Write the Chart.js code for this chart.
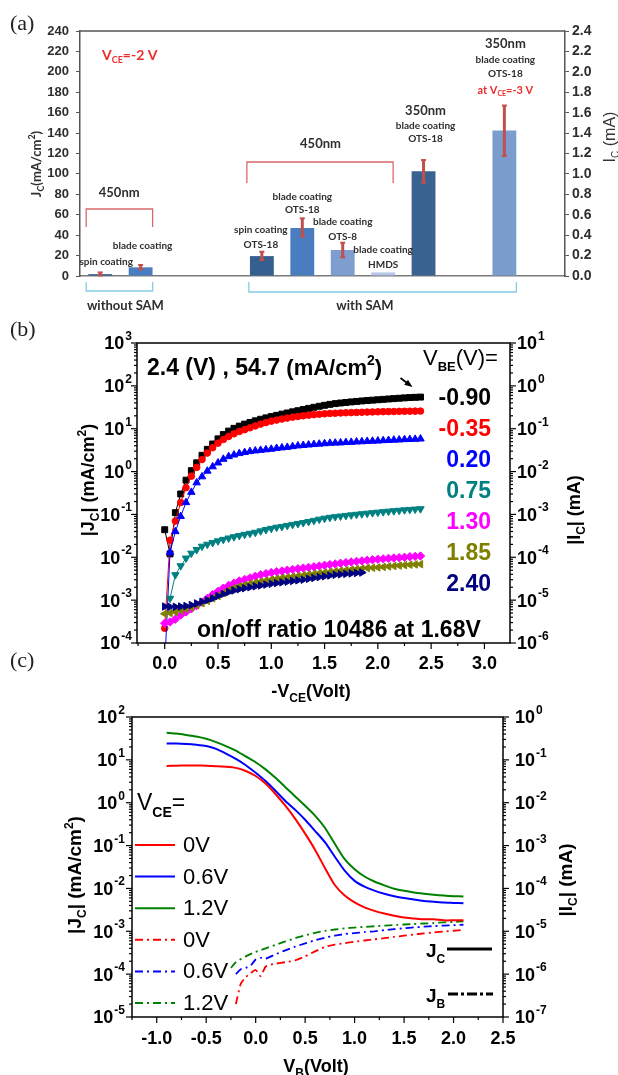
<!DOCTYPE html>
<html>
<head>
<meta charset="utf-8">
<script src="https://cdn.jsdelivr.net/npm/chart.js@4.4.0/dist/chart.umd.min.js"></script>
<style>
  body { margin: 0; background: #fff; }
  #wrap { position: relative; width: 618px; height: 1075px; overflow: hidden; }
  canvas { position: absolute; left: 0; }
</style>
</head>
<body>
<div id="wrap">
  <canvas id="chartA" width="618" height="318" style="top:0"></canvas>
  <canvas id="chartB" width="618" height="384" style="top:318px"></canvas>
  <canvas id="chartC" width="618" height="373" style="top:702px"></canvas>
</div>
<script>
// ---------- panel (a): Jc at Vce = -2 V ----------
const catsA = ['spin coating', 'blade coating', 'gap1', 'gap2', 'spin coating OTS-18', 'blade coating OTS-18',
  'blade coating OTS-8', 'blade coating HMDS', '350nm blade coating OTS-18', 'gap3', '350nm blade coating OTS-18 at -3 V', 'gap4'];
const jcA    = [1.8, 8.5, null, null, 19.5, 47, 25.5, 3.5, 102.5, null, 142.5, null];
const errLoA = [0.5, 6.6, null, null, 15.7, 38.5, 18.3, null, 91.4, null, 117.6, null];
const errHiA = [3.5, 10.8, null, null, 23.8, 56.5, 32.6, null, 113.6, null, 167, null];
const jcTicksA = [0, 20, 40, 60, 80, 100, 120, 140, 160, 180, 200, 220, 240];
const icTicksA = ['0.0', '0.2', '0.4', '0.6', '0.8', '1.0', '1.2', '1.4', '1.6', '1.8', '2.0', '2.2', '2.4'];

// ---------- panel (b): |Jc| vs -Vce for several Vbe ----------
const vceB = [0, 0.05, 0.1, 0.15, 0.2, 0.25, 0.3, 0.35, 0.4, 0.45, 0.5, 0.55, 0.6, 0.65, 0.7, 0.75, 0.8, 0.85, 0.9, 0.95,
  1.0, 1.05, 1.1, 1.15, 1.2, 1.25, 1.3, 1.35, 1.4, 1.45, 1.5, 1.55, 1.6, 1.65, 1.7, 1.75, 1.8, 1.85, 1.9, 1.95,
  2.0, 2.05, 2.1, 2.15, 2.2, 2.25, 2.3, 2.35, 2.4];
const vbeLabelsB = ['-0.90', '-0.35', '0.20', '0.75', '1.30', '1.85', '2.40'];
const jcBm090 = [0.044, 0.012, 0.11, 0.30, 0.63, 1.05, 1.6, 2.4, 3.3, 4.4, 5.8, 7.3, 8.8, 10.2, 11.5, 12.8, 14.0, 15.3, 16.6, 17.9,
  19.2, 20.5, 21.9, 23.3, 24.8, 26.3, 28.0, 29.8, 31.6, 33.4, 35.2, 37.0, 38.5, 39.8, 41.0, 42.2, 43.3, 44.4, 45.4, 46.4,
  47.4, 48.4, 49.4, 50.4, 51.4, 52.4, 53.3, 54.0, 54.7];
const jcBm035 = [2.2e-4, 0.025, 0.07, 0.19, 0.42, 0.78, 1.25, 1.9, 2.7, 3.6, 4.6, 5.6, 6.6, 7.6, 8.6, 9.5, 10.5, 11.6, 12.8, 13.9,
  15.0, 15.9, 16.8, 17.7, 18.6, 19.3, 20.0, 20.7, 21.3, 21.8, 22.3, 22.7, 23.0, 23.3, 23.6, 23.8, 24.0, 24.2, 24.4, 24.6,
  24.8, 25.0, 25.1, 25.2, 25.4, 25.5, 25.6, 25.7, 25.8];
const jcB020 = [3e-5, 0.013, 0.040, 0.09, 0.19, 0.33, 0.55, 0.76, 1.03, 1.3, 1.6, 1.95, 2.25, 2.45, 2.65, 2.8, 2.95, 3.05, 3.15, 3.25,
  3.35, 3.5, 3.6, 3.7, 3.85, 4.0, 4.1, 4.2, 4.3, 4.4, 4.5, 4.6, 4.65, 4.7, 4.8, 4.85, 4.95, 5.0, 5.1, 5.15,
  5.2, 5.3, 5.35, 5.45, 5.5, 5.6, 5.65, 5.7, 5.8];
const jcB075 = [null, 1.1e-3, 3.9e-3, 6.3e-3, 9.5e-3, 0.0124, 0.015, 0.018, 0.020, 0.022, 0.024, 0.026, 0.028, 0.030, 0.032, 0.034, 0.036, 0.038, 0.041, 0.044,
  0.047, 0.050, 0.052, 0.055, 0.058, 0.061, 0.064, 0.068, 0.072, 0.077, 0.081, 0.085, 0.088, 0.091, 0.094, 0.097, 0.100, 0.103, 0.106, 0.109,
  0.112, 0.115, 0.118, 0.121, 0.124, 0.127, 0.130, 0.132, 0.135];
const jcB130 = [2.9e-4, 3.1e-4, 3.6e-4, 4.5e-4, 5.3e-4, 6.3e-4, 7.5e-4, 9.0e-4, 1.1e-3, 1.35e-3, 1.6e-3, 1.9e-3, 2.2e-3, 2.5e-3, 2.8e-3, 3.05e-3, 3.3e-3, 3.6e-3, 3.9e-3, 4.15e-3,
  4.4e-3, 4.6e-3, 4.8e-3, 5.0e-3, 5.2e-3, 5.4e-3, 5.6e-3, 5.8e-3, 6.0e-3, 6.25e-3, 6.5e-3, 6.75e-3, 7.0e-3, 7.25e-3, 7.5e-3, 7.75e-3, 8.0e-3, 8.25e-3, 8.5e-3, 8.75e-3,
  9.0e-3, 9.2e-3, 9.4e-3, 9.6e-3, 9.8e-3, 1.0e-2, 1.03e-2, 1.05e-2, 1.07e-2];
const jcB185 = [4.8e-4, 5.0e-4, 5.3e-4, 5.7e-4, 6.2e-4, 6.8e-4, 7.6e-4, 8.5e-4, 9.6e-4, 1.1e-3, 1.25e-3, 1.45e-3, 1.7e-3, 1.9e-3, 2.1e-3, 2.25e-3, 2.4e-3, 2.55e-3, 2.7e-3, 2.85e-3,
  3.0e-3, 3.15e-3, 3.3e-3, 3.4e-3, 3.5e-3, 3.65e-3, 3.8e-3, 3.95e-3, 4.1e-3, 4.25e-3, 4.4e-3, 4.55e-3, 4.7e-3, 4.85e-3, 5.0e-3, 5.15e-3, 5.3e-3, 5.45e-3, 5.6e-3, 5.7e-3,
  5.8e-3, 5.95e-3, 6.1e-3, 6.25e-3, 6.4e-3, 6.55e-3, 6.7e-3, 6.8e-3, 6.9e-3];
const jcB240 = [7.1e-4, 7.0e-4, 7.0e-4, 7.1e-4, 7.3e-4, 7.7e-4, 8.4e-4, 9.2e-4, 1.0e-3, 1.1e-3, 1.25e-3, 1.4e-3, 1.55e-3, 1.68e-3, 1.8e-3, 1.9e-3, 2.0e-3, 2.1e-3, 2.2e-3, 2.3e-3,
  2.4e-3, 2.5e-3, 2.6e-3, 2.7e-3, 2.8e-3, 2.9e-3, 3.0e-3, 3.15e-3, 3.3e-3, 3.45e-3, 3.6e-3, 3.75e-3, 3.9e-3, 4.0e-3, 4.1e-3, 4.2e-3, 4.3e-3, 4.4e-3];
const jcExpB = [-4, -3, -2, -1, 0, 1, 2, 3];
const icExpB = [-6, -5, -4, -3, -2, -1, 0, 1];
const xTicksB = ['0.0', '0.5', '1.0', '1.5', '2.0', '2.5', '3.0'];

// ---------- panel (c): Jc and Jb vs Vb ----------
const vbC = [-0.9, -0.8, -0.7, -0.6, -0.5, -0.4, -0.3, -0.2, -0.1, 0, 0.1, 0.2, 0.3, 0.4, 0.5, 0.6, 0.7, 0.8, 0.9, 1.0,
  1.1, 1.2, 1.3, 1.4, 1.5, 1.6, 1.7, 1.8, 1.9, 2.0, 2.1];
const jcC00 = [7.2, 7.3, 7.4, 7.4, 7.3, 7.1, 6.9, 6.5, 5.5, 4.2, 2.8, 1.6, 0.85, 0.42, 0.19, 0.080, 0.030, 0.012, 0.0068, 0.0047,
  0.0036, 0.0030, 0.0026, 0.0023, 0.0021, 0.0020, 0.0019, 0.0019, 0.0018, 0.0018, 0.0018];
const jcC06 = [24, 24, 23.5, 22.5, 21, 18, 14, 10.5, 7.5, 5.0, 3.2, 1.9, 1.1, 0.68, 0.40, 0.22, 0.12, 0.055, 0.026, 0.015,
  0.011, 0.0089, 0.0075, 0.0066, 0.0060, 0.0055, 0.0051, 0.0049, 0.0047, 0.0046, 0.0045];
const jcC12 = [43, 41, 38, 35, 31, 26, 21, 16.5, 12, 8.8, 6.0, 3.8, 2.3, 1.4, 0.85, 0.50, 0.26, 0.11, 0.048, 0.028,
  0.019, 0.0145, 0.0118, 0.0098, 0.0088, 0.0080, 0.0075, 0.0071, 0.0068, 0.0066, 0.0065];
const vbJb00 = [-0.2, -0.15, -0.1, -0.05, 0, 0.05, 0.1, 0.15, 0.2, 0.3, 0.4, 0.5, 0.6, 0.7, 0.8, 0.9, 1.0, 1.1, 1.2, 1.3, 1.4, 1.5, 1.6, 1.7, 1.8, 1.9, 2.0, 2.1];
const jbC00 = [2.0e-5, 6.0e-5, 8.5e-5, 1.05e-4, 1.25e-4, 9.0e-5, 1.5e-4, 1.65e-4, 1.75e-4, 1.9e-4, 2.1e-4, 2.6e-4, 3.4e-4, 4.3e-4, 4.9e-4, 5.3e-4, 5.7e-4, 6.1e-4,
  6.5e-4, 6.9e-4, 7.4e-4, 7.9e-4, 8.4e-4, 8.9e-4, 9.4e-4, 9.9e-4, 1.03e-3, 1.07e-3];
const vbJb06 = [-0.2, -0.15, -0.1, -0.05, 0, 0.05, 0.1, 0.2, 0.3, 0.4, 0.5, 0.6, 0.7, 0.8, 0.9, 1.0, 1.1, 1.2, 1.3, 1.4, 1.5, 1.6, 1.7, 1.8, 1.9, 2.0, 2.1];
const jbC06 = [1.0e-4, 1.3e-4, 1.4e-4, 1.6e-4, 2.2e-4, 2.4e-4, 2.3e-4, 2.9e-4, 3.6e-4, 4.4e-4, 5.2e-4, 6.2e-4, 7.1e-4, 7.9e-4, 8.6e-4, 9.1e-4, 9.6e-4,
  1.0e-3, 1.06e-3, 1.12e-3, 1.18e-3, 1.23e-3, 1.28e-3, 1.32e-3, 1.36e-3, 1.39e-3, 1.42e-3];
const vbJb12 = [-0.25, -0.2, -0.1, 0, 0.1, 0.2, 0.3, 0.4, 0.5, 0.6, 0.7, 0.8, 0.9, 1.0, 1.1, 1.2, 1.3, 1.4, 1.5, 1.6, 1.7, 1.8, 1.9, 2.0, 2.1];
const jbC12 = [1.4e-4, 1.9e-4, 2.6e-4, 3.3e-4, 4.0e-4, 4.8e-4, 5.8e-4, 6.9e-4, 8.0e-4, 9.2e-4, 1.02e-3, 1.1e-3, 1.17e-3, 1.22e-3, 1.27e-3, 1.31e-3,
  1.36e-3, 1.40e-3, 1.44e-3, 1.48e-3, 1.52e-3, 1.56e-3, 1.61e-3, 1.65e-3, 1.7e-3];
const vceLabelsC = ['0V', '0.6V', '1.2V', '0V', '0.6V', '1.2V'];
const jcExpC = [-5, -4, -3, -2, -1, 0, 1, 2];
const icExpC = [-7, -6, -5, -4, -3, -2, -1, 0];
const xTicksC = ['-1.0', '-0.5', '0.0', '0.5', '1.0', '1.5', '2.0', '2.5'];

// ---------- helpers ----------
const FA = '"Liberation Sans", Arial, sans-serif';
const FL = 'Lato, "Liberation Sans", sans-serif';
const FS = '"Liberation Serif", "Times New Roman", serif';
const DARK = '#2e2e2e';
const RED_TXT = '#ee2b2b';

function seg(ctx, x1, y1, x2, y2) {
  ctx.beginPath(); ctx.moveTo(x1, y1); ctx.lineTo(x2, y2); ctx.stroke();
}

// parts: [text, size, weight, dy]
function rich(ctx, parts, x, y, align, color, fam) {
  const f = p => (p[2] || 'bold') + ' ' + p[1] + 'px ' + fam;
  let w = 0;
  parts.forEach(p => { ctx.font = f(p); w += ctx.measureText(p[0]).width; });
  let cx = align === 'center' ? x - w / 2 : align === 'right' ? x - w : x;
  ctx.fillStyle = color; ctx.textAlign = 'left'; ctx.textBaseline = 'alphabetic';
  parts.forEach(p => {
    ctx.font = f(p);
    ctx.fillText(p[0], cx, y + (p[3] || 0));
    cx += ctx.measureText(p[0]).width;
  });
}

function richUp(ctx, parts, cx, cy, shift, color, fam) {
  ctx.save();
  ctx.translate(cx, cy);
  ctx.rotate(-Math.PI / 2);
  rich(ctx, parts, 0, shift, 'center', color, fam);
  ctx.restore();
}

function powLabel(ctx, k, x, y, align, size) {
  const big = 'bold ' + size + 'px ' + FA;
  const small = 'bold ' + Math.round(size * 0.66) + 'px ' + FA;
  ctx.font = big; const wb = ctx.measureText('10').width;
  ctx.font = small; const we = ctx.measureText(String(k)).width;
  const x0 = align === 'right' ? x - wb - we - 1 : x;
  ctx.fillStyle = '#000'; ctx.textAlign = 'left'; ctx.textBaseline = 'alphabetic';
  ctx.font = big; ctx.fillText('10', x0, y + size * 0.36);
  ctx.font = small; ctx.fillText(String(k), x0 + wb + 1, y - size * 0.17);
}

function logAxis(ctx, scale, ax, dir, exps, gap, size) {
  exps.forEach((k, i) => {
    const py = scale.getPixelForValue(Math.pow(10, k));
    seg(ctx, ax, py, ax + dir * 6, py);
    if (i < exps.length - 1) {
      for (let m = 2; m < 10; m++) {
        const pm = scale.getPixelForValue(m * Math.pow(10, k));
        seg(ctx, ax, pm, ax + dir * 3, pm);
      }
    }
    powLabel(ctx, k, ax + dir * gap, py, dir < 0 ? 'right' : 'left', size);
  });
}

function linAxis(ctx, scale, ay, labels, gap, size) {
  const vals = labels.map(Number);
  const half = (vals[1] - vals[0]) / 2;
  vals.forEach(v => { const px = scale.getPixelForValue(v); seg(ctx, px, ay, px, ay + 6); });
  const mids = vals.slice(0, -1).map(v => v + half);
  if (vals[0] - half >= scale.min - 1e-9) mids.push(vals[0] - half);
  mids.forEach(v => { const px = scale.getPixelForValue(v); seg(ctx, px, ay, px, ay + 3); });
  ctx.font = 'bold ' + size + 'px ' + FA;
  ctx.fillStyle = '#000'; ctx.textAlign = 'center'; ctx.textBaseline = 'top';
  labels.forEach((t, i) => ctx.fillText(t, scale.getPixelForValue(vals[i]), ay + gap));
}

// bracket: horizontal at yh, legs running to yl
function bracket(ctx, x1, x2, yh, yl, color) {
  ctx.strokeStyle = color; ctx.lineWidth = 1.3;
  ctx.beginPath();
  ctx.moveTo(x1, yl); ctx.lineTo(x1, yh); ctx.lineTo(x2, yh); ctx.lineTo(x2, yl);
  ctx.stroke();
}

// ---------- chart (a) ----------
const barColorsA = ['#2f5b8e', '#4a7dbf', null, null, '#355f8f', '#4a7dc0', '#7d9ecf', '#b4c6e7', '#3a6291', null, '#7b9dcd', null];

const annotA = {
  id: 'annotA',
  afterDraw(chart) {
    const { ctx, chartArea: a, scales: { x, y } } = chart;
    const cx = i => x.getPixelForValue(i);
    ctx.save();
    ctx.strokeStyle = '#555'; ctx.lineWidth = 1.5;
    seg(ctx, a.left, a.top, a.right, a.top);

    // error bars
    ctx.strokeStyle = '#c0504d'; ctx.lineWidth = 3;
    errLoA.forEach((lo, i) => {
      if (lo === null) return;
      const px = cx(i), y1 = y.getPixelForValue(lo), y2 = y.getPixelForValue(errHiA[i]);
      seg(ctx, px, y1, px, y2);
      ctx.lineWidth = 2;
      seg(ctx, px - 2.5, y1, px + 2.5, y1);
      seg(ctx, px - 2.5, y2, px + 2.5, y2);
      ctx.lineWidth = 3;
    });

    // brackets
    bracket(ctx, cx(0) - 14, cx(1) + 12, 209, 227, '#d96a6a');
    bracket(ctx, cx(4) - 15, cx(7) + 10, 162, 183, '#d96a6a');
    bracket(ctx, cx(0) - 14, cx(1) + 12, 291, 282, '#86cde6');
    bracket(ctx, cx(4) - 13, cx(10) + 12, 292, 282, '#86cde6');

    // annotations
    rich(ctx, [['V', 14], ['CE', 9, 'bold', 3], ['=-2 V', 14]], 102, 60, 'left', RED_TXT, FL);
    rich(ctx, [['450nm', 13]], cx(0) + 19, 197, 'center', DARK, FL);
    rich(ctx, [['spin coating', 10]], cx(0) + 6, 265, 'center', DARK, FL);
    rich(ctx, [['blade coating', 10]], cx(1) + 2, 249, 'center', DARK, FL);
    rich(ctx, [['without SAM', 13]], (cx(0) + cx(1)) / 2 + 5, 310, 'center', DARK, FL);

    rich(ctx, [['450nm', 13]], (cx(4) + cx(7)) / 2 - 2, 148, 'center', DARK, FL);
    rich(ctx, [['spin coating', 10]], cx(4) - 1, 233, 'center', DARK, FL);
    rich(ctx, [['OTS-18', 10]], cx(4) - 1, 248, 'center', DARK, FL);
    rich(ctx, [['blade coating', 10]], cx(5), 200, 'center', DARK, FL);
    rich(ctx, [['OTS-18', 10]], cx(5), 213, 'center', DARK, FL);
    rich(ctx, [['blade coating', 10]], cx(6), 225, 'center', DARK, FL);
    rich(ctx, [['OTS-8', 10]], cx(6), 240, 'center', DARK, FL);
    rich(ctx, [['blade coating', 10]], cx(7), 253, 'center', DARK, FL);
    rich(ctx, [['HMDS', 10]], cx(7), 268, 'center', DARK, FL);
    rich(ctx, [['350nm', 13]], cx(8) + 2, 115, 'center', DARK, FL);
    rich(ctx, [['blade coating', 10]], cx(8) + 2, 128.5, 'center', DARK, FL);
    rich(ctx, [['OTS-18', 10]], cx(8) + 2, 142, 'center', DARK, FL);
    rich(ctx, [['350nm', 13]], cx(10) + 1, 48, 'center', DARK, FL);
    rich(ctx, [['blade coating', 10]], cx(10) + 1, 63, 'center', DARK, FL);
    rich(ctx, [['OTS-18', 10]], cx(10) + 1, 77, 'center', DARK, FL);
    rich(ctx, [['at V', 11], ['CE', 7, 'bold', 2], ['=-3 V', 11]], cx(10) + 1, 94, 'center', RED_TXT, FL);
    rich(ctx, [['with SAM', 13]], 365, 310, 'center', DARK, FL);

    // axis titles
    richUp(ctx, [['J', 13], ['C', 9, 'bold', 3], ['(mA/cm', 13], ['2', 9, 'bold', -6], [')', 13]], 36, 164, 5, DARK, FL);
    richUp(ctx, [['I', 16, 'normal'], ['C', 10, 'normal', 4], [' (mA)', 16, 'normal']], 609, 137, 6, '#333', FA);

    ctx.font = '22px ' + FS; ctx.fillStyle = '#222'; ctx.textAlign = 'left'; ctx.textBaseline = 'alphabetic';
    ctx.fillText('(a)', 10, 30);
    ctx.restore();
  }
};

new Chart(document.getElementById('chartA'), {
  type: 'bar',
  data: {
    labels: catsA,
    datasets: [{
      data: jcA,
      backgroundColor: barColorsA,
      barPercentage: 0.59,
      categoryPercentage: 1,
      yAxisID: 'y'
    }]
  },
  options: {
    responsive: false,
    animation: false,
    events: [],
    layout: { padding: { top: 31, left: 0, right: 0, bottom: 0 } },
    plugins: { legend: { display: false }, tooltip: { enabled: false } },
    scales: {
      x: {
        type: 'category',
        offset: true,
        grid: { display: false },
        ticks: { display: false },
        border: { color: '#7a7a7a', width: 1.5 },
        afterFit: s => { s.height = 42; }
      },
      y: {
        position: 'left',
        min: 0, max: 240,
        afterBuildTicks: s => { s.ticks = jcTicksA.map(v => ({ value: v })); },
        ticks: { font: { family: 'Liberation Sans', weight: 'bold', size: 13 }, color: DARK, padding: 7 },
        grid: { drawOnChartArea: false, tickLength: 4, color: '#555' },
        border: { color: '#555', width: 1.5 },
        afterFit: s => { s.width = 80; }
      },
      y2: {
        position: 'right',
        min: 0, max: 2.4,
        afterBuildTicks: s => { s.ticks = icTicksA.map(v => ({ value: Number(v) })); },
        ticks: { callback: (v, i) => icTicksA[i], font: { family: 'Liberation Sans', weight: 'bold', size: 14 }, color: DARK, padding: 3 },
        grid: { drawOnChartArea: false, tickLength: 4, color: '#555' },
        border: { color: '#555', width: 1.5 },
        afterFit: s => { s.width = 53; }
      }
    }
  },
  plugins: [annotA]
});

// ---------- chart (b) ----------
const seriesB = [jcBm090, jcBm035, jcB020, jcB075, jcB130, jcB185, jcB240];
const styleB = [
  { c: '#000000', ps: 'rect', r: 4.2, rot: 0 },
  { c: '#ff0000', ps: 'circle', r: 3.3, rot: 0 },
  { c: '#0000ff', ps: 'triangle', r: 4.3, rot: 0 },
  { c: '#008080', ps: 'triangle', r: 4.3, rot: 180 },
  { c: '#ff00ff', ps: 'rectRot', r: 4.2, rot: 0 },
  { c: '#808000', ps: 'triangle', r: 4.3, rot: 270 },
  { c: '#000080', ps: 'triangle', r: 4.3, rot: 90 }
];

const decoB = {
  id: 'decoB',
  afterDraw(chart) {
    const { ctx, chartArea: a, scales: { x, y, y2 } } = chart;
    ctx.save();
    ctx.strokeStyle = '#000'; ctx.lineWidth = 1.5;
    ctx.strokeRect(a.left, a.top, a.right - a.left, a.bottom - a.top);
    ctx.lineWidth = 1.2;
    logAxis(ctx, y, a.left, -1, jcExpB, 5, 18);
    logAxis(ctx, y2, a.right, 1, icExpB, 7, 18);
    linAxis(ctx, x, a.bottom, xTicksB, 12, 18);

    // axis titles
    richUp(ctx, [['|J', 18], ['C', 12, 'bold', 5], ['| (mA/cm', 18], ['2', 12, 'bold', -8], [')', 18]], 87, 162, 7, '#000', FA);
    richUp(ctx, [['|I', 18], ['C', 12, 'bold', 5], ['| (mA)', 18]], 573, 192, 7, '#000', FA);
    rich(ctx, [['-V', 18], ['CE', 12, 'bold', 5], ['(Volt)', 18]], 311, 379, 'center', '#000', FA);

    // annotation at the end of the -0.90 V curve
    rich(ctx, [['2.4 (V) , 54.7 ', 23], ['(mA/cm', 22], ['2', 14, 'bold', -10], [')', 22]], 147, 57, 'left', '#000', FA);
    const n = jcBm090.length - 1;
    const px = x.getPixelForValue(vceB[n]), py = y.getPixelForValue(jcBm090[n]);
    const tx = px - 8, ty = py - 10, sx = px - 20, sy = py - 19;
    ctx.strokeStyle = '#000'; ctx.lineWidth = 1.8;
    seg(ctx, sx, sy, tx - 3, ty - 2.3);
    const ang = Math.atan2(ty - sy, tx - sx);
    ctx.fillStyle = '#000';
    ctx.beginPath();
    ctx.moveTo(tx, ty);
    ctx.lineTo(tx - 8 * Math.cos(ang) + 3.2 * Math.sin(ang), ty - 8 * Math.sin(ang) - 3.2 * Math.cos(ang));
    ctx.lineTo(tx - 8 * Math.cos(ang) - 3.2 * Math.sin(ang), ty - 8 * Math.sin(ang) + 3.2 * Math.cos(ang));
    ctx.closePath(); ctx.fill();

    // legend column
    rich(ctx, [['V', 22, 'normal'], ['BE', 13, 'bold', 6], ['(V)=', 22, 'normal']], 423, 47, 'left', '#000', FA);
    vbeLabelsB.forEach((t, i) => rich(ctx, [[t, 23]], 491, 87 + i * 31, 'right', styleB[i].c, FA));

    rich(ctx, [['on/off ratio 10486 at 1.68V', 23]], 197, 319, 'left', '#000', FA);

    ctx.font = '22px ' + FS; ctx.fillStyle = '#222'; ctx.textAlign = 'left'; ctx.textBaseline = 'alphabetic';
    ctx.fillText('(b)', 10, 18);
    ctx.fillText('(c)', 10, 349);
    ctx.restore();
  }
};

new Chart(document.getElementById('chartB'), {
  type: 'line',
  data: {
    datasets: seriesB.map((arr, i) => ({
      label: vbeLabelsB[i],
      data: arr.map((v, j) => ({ x: vceB[j], y: v })).filter(p => p.y !== null),
      borderColor: styleB[i].c,
      backgroundColor: styleB[i].c,
      borderWidth: 1,
      pointStyle: styleB[i].ps,
      pointRadius: styleB[i].r,
      pointRotation: styleB[i].rot,
      pointBorderWidth: 1,
      tension: 0,
      order: 10 - i
    }))
  },
  options: {
    responsive: false,
    animation: false,
    events: [],
    layout: { padding: { left: 137, right: 108, top: 25, bottom: 59 } },
    plugins: { legend: { display: false }, tooltip: { enabled: false } },
    scales: {
      x: { type: 'linear', min: -0.26, max: 3.24, display: false },
      y: { type: 'logarithmic', min: 1e-4, max: 1e3, display: false },
      y2: { type: 'logarithmic', position: 'right', min: 1e-6, max: 10, display: false }
    }
  },
  plugins: [decoB]
});

// ---------- chart (c) ----------
const colC = ['#ff0000', '#0000ff', '#008000'];
const dashC = [8, 4, 2, 4];
const linesC = [
  { xs: vbC, ys: jcC00, c: 0, dash: [] },
  { xs: vbC, ys: jcC06, c: 1, dash: [] },
  { xs: vbC, ys: jcC12, c: 2, dash: [] },
  { xs: vbJb00, ys: jbC00, c: 0, dash: dashC },
  { xs: vbJb06, ys: jbC06, c: 1, dash: dashC },
  { xs: vbJb12, ys: jbC12, c: 2, dash: dashC }
];

const decoC = {
  id: 'decoC',
  afterDraw(chart) {
    const { ctx, chartArea: a, scales: { x, y, y2 } } = chart;
    ctx.save();
    ctx.strokeStyle = '#000'; ctx.lineWidth = 1.5;
    ctx.strokeRect(a.left, a.top, a.right - a.left, a.bottom - a.top);
    ctx.lineWidth = 1.2;
    logAxis(ctx, y, a.left, -1, jcExpC, 7, 18);
    logAxis(ctx, y2, a.right, 1, icExpC, 12, 18);
    linAxis(ctx, x, a.bottom, xTicksC, 13, 18);

    richUp(ctx, [['|J', 19], ['C', 12, 'bold', 5], ['| (mA/cm', 19], ['2', 12, 'bold', -8], [')', 19]], 74, 173, 7, '#000', FA);
    richUp(ctx, [['|I', 19], ['C', 12, 'bold', 5], ['| (mA)', 19]], 565, 178, 7, '#000', FA);
    rich(ctx, [['V', 18], ['B', 12, 'bold', 5], ['(Volt)', 18]], 316, 370, 'center', '#000', FA);

    // V_CE legend
    rich(ctx, [['V', 23, 'normal'], ['CE', 14, 'bold', 7], ['=', 23, 'normal']], 137, 108, 'left', '#000', FA);
    linesC.forEach((l, i) => {
      const ly = 143 + i * 31.6;
      ctx.strokeStyle = colC[l.c]; ctx.lineWidth = 2; ctx.setLineDash(l.dash);
      seg(ctx, 135, ly, 175, ly);
      ctx.setLineDash([]);
      ctx.font = '22px ' + FA; ctx.fillStyle = '#000'; ctx.textAlign = 'left'; ctx.textBaseline = 'middle';
      ctx.fillText(vceLabelsC[i], 183, ly + 1);
    });

    // line style key
    rich(ctx, [['J', 19], ['C', 12, 'bold', 6]], 426, 255, 'left', '#000', FA);
    ctx.strokeStyle = '#000'; ctx.lineWidth = 3;
    seg(ctx, 447, 247, 492, 247);
    rich(ctx, [['J', 19], ['B', 12, 'bold', 6]], 426, 300, 'left', '#000', FA);
    ctx.setLineDash([10, 3, 3, 3]);
    seg(ctx, 448, 292, 493, 292);
    ctx.setLineDash([]);
    ctx.restore();
  }
};

new Chart(document.getElementById('chartC'), {
  type: 'line',
  data: {
    datasets: linesC.map((l, i) => ({
      data: l.ys.map((v, j) => ({ x: l.xs[j], y: v })),
      borderColor: colC[l.c],
      borderWidth: l.dash.length ? 1.8 : 2,
      borderDash: l.dash,
      pointRadius: 0,
      tension: 0.2,
      order: i
    }))
  },
  options: {
    responsive: false,
    animation: false,
    events: [],
    layout: { padding: { left: 132, right: 115, top: 15, bottom: 58 } },
    plugins: { legend: { display: false }, tooltip: { enabled: false } },
    scales: {
      x: { type: 'linear', min: -1.25, max: 2.5, display: false },
      y: { type: 'logarithmic', min: 1e-5, max: 100, display: false },
      y2: { type: 'logarithmic', position: 'right', min: 1e-7, max: 1, display: false }
    }
  },
  plugins: [decoC]
});
</script>
</body>
</html>
